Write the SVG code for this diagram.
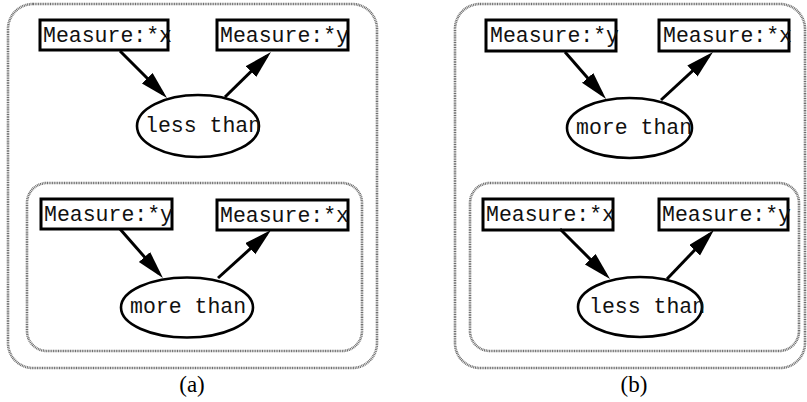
<svg xmlns="http://www.w3.org/2000/svg" width="807" height="402" viewBox="0 0 807 402">
  <defs>
    <marker id="arrow" markerUnits="userSpaceOnUse" markerWidth="30" markerHeight="17" refX="22" refY="7.5" orient="auto">
      <path d="M0,0 L28,7.5 L0,15 z" fill="#000"/>
    </marker>
    <style>
      .frame { fill: none; stroke: #6e6e6e; stroke-width: 2.6; stroke-dasharray: 1 0.7; }
      .box { fill: #fff; stroke: #000; stroke-width: 3; }
      .rel { fill: #fff; stroke: #000; stroke-width: 2.6; }
      .mono { font-family: "Liberation Mono", "Courier New", monospace; font-size: 21.5px; fill: #111; }
      .cap { font-family: "Liberation Serif", "Times New Roman", serif; font-size: 23px; fill: #000; text-anchor: middle; }
      .edge { fill: none; stroke: #000; stroke-width: 3; marker-end: url(#arrow); }
    </style>
  </defs>
  <rect width="807" height="402" fill="#fff"/>

  <!-- panel (a) -->
  <g id="panel-a">
    <rect id="a-outer" class="frame" x="8" y="4" width="369" height="364" rx="25"/>
    <rect id="a-inner" class="frame" x="27" y="183" width="335" height="168" rx="20"/>
  </g>
  <g id="a-m1"><rect class="box" x="40" y="20" width="128" height="30"/><text class="mono" x="43" y="42">Measure:*x</text></g>
  <g id="a-m2"><rect class="box" x="217" y="20" width="131" height="30"/><text class="mono" x="220" y="42">Measure:*y</text></g>
  <g id="a-less"><ellipse class="rel" cx="198" cy="126" rx="61" ry="31"/><text class="mono" x="145" y="132">less than</text></g>
  <g id="a-m3"><rect class="box" x="41" y="199" width="131" height="30"/><text class="mono" x="44" y="221">Measure:*y</text></g>
  <g id="a-m4"><rect class="box" x="217" y="200" width="131" height="30"/><text class="mono" x="220" y="222">Measure:*x</text></g>
  <g id="a-more"><ellipse class="rel" cx="187" cy="307.5" rx="66" ry="30"/><text class="mono" x="130" y="313">more than</text></g>

  <!-- panel (b) -->
  <g id="panel-b">
    <rect id="b-outer" class="frame" x="455" y="4" width="350" height="364" rx="25"/>
    <rect id="b-inner" class="frame" x="470" y="183" width="329" height="168" rx="20"/>
  </g>
  <g id="b-m1"><rect class="box" x="486" y="20" width="130" height="31"/><text class="mono" x="490" y="42">Measure:*y</text></g>
  <g id="b-m2"><rect class="box" x="659" y="20" width="130" height="31"/><text class="mono" x="663" y="42">Measure:*x</text></g>
  <g id="b-more"><ellipse class="rel" cx="629.5" cy="128" rx="62.5" ry="30"/><text class="mono" x="576" y="134">more than</text></g>
  <g id="b-m3"><rect class="box" x="483" y="199" width="130" height="31"/><text class="mono" x="486" y="221">Measure:*x</text></g>
  <g id="b-m4"><rect class="box" x="659" y="199" width="129" height="31"/><text class="mono" x="662" y="221">Measure:*y</text></g>
  <g id="b-less"><ellipse class="rel" cx="640" cy="307" rx="62" ry="30"/><text class="mono" x="589" y="313">less than</text></g>

  <!-- connectors: each line stops short of the node so the arrowhead tip lands on its border -->
  <g id="connectors">
    <line class="edge" x1="120" y1="51" x2="162.8" y2="93.8"/>
    <line class="edge" x1="225" y1="97" x2="266.7" y2="56.2"/>
    <line class="edge" x1="120" y1="229" x2="159" y2="273.5"/>
    <line class="edge" x1="218" y1="278" x2="266.6" y2="234"/>
    <line class="edge" x1="565" y1="52" x2="602.1" y2="94.5"/>
    <line class="edge" x1="661" y1="100" x2="708.6" y2="56.1"/>
    <line class="edge" x1="560" y1="229" x2="605.8" y2="274.8"/>
    <line class="edge" x1="667" y1="279" x2="709.8" y2="234.3"/>
  </g>

  <!-- captions -->
  <text class="cap" x="192" y="392">(a)</text>
  <text class="cap" x="634" y="392">(b)</text>
</svg>
